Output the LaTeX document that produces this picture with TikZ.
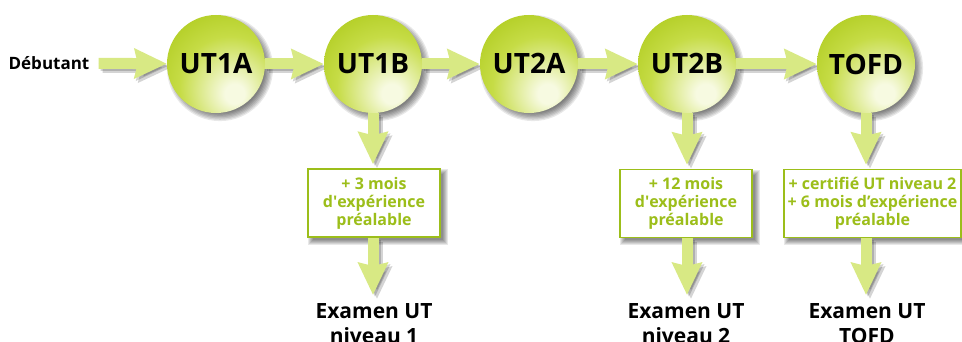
\documentclass[tikz,border=0pt]{standalone}
\usepackage{fontspec}
\setmainfont{Open Sans}
\usetikzlibrary{arrows.meta}
\definecolor{ballout}{RGB}{160,192,4}
\definecolor{ballmid}{RGB}{198,220,70}
\definecolor{ballin}{RGB}{247,250,225}
\definecolor{arrowc}{RGB}{216,233,132}
\definecolor{boxgreen}{RGB}{156,190,26}
\pgfdeclareradialshading{utball}{\pgfpoint{10bp}{-16bp}}{color(0bp)=(ballin); color(5bp)=(ballin); color(26bp)=(ballmid); color(52bp)=(ballout); color(100bp)=(ballout)}
\pgfdeclarelayer{back}
\pgfdeclarelayer{bg}
\pgfsetlayers{back,bg,main}
\tikzset{
  utnode/.style={circle, minimum size=98pt, inner sep=0pt, shading=utball,
    font=\fontsize{28}{30}\selectfont\bfseries},
  boxnode/.style={draw=boxgreen, line width=1.5pt, fill=white, minimum height=68pt,
    text=boxgreen, align=center, inner sep=0pt,
    font=\fontsize{16}{18}\selectfont\bfseries},
  examnode/.style={align=center, anchor=north, inner sep=2pt,
    font=\fontsize{21}{25}\selectfont\bfseries},
  fatarrow/.style={draw=arrowc, fill=arrowc, line width=11pt,
    -{Stealth[length=32pt,width=29pt,inset=3pt]}},
  arrsh/.style={fatarrow, draw=black, fill=black, opacity=0.17},
  softsh/.style={black, opacity=0.09}
}
\newcommand\fatarr[3][]{%
  \begin{pgfonlayer}{bg}
  \draw[arrsh,#1,transform canvas={shift={(2pt,-2pt)}}] #2 -- #3;
  \draw[arrsh,#1,transform canvas={shift={(4pt,-4pt)}}] #2 -- #3;
  \draw[fatarrow,#1] #2 -- #3;
  \end{pgfonlayer}}
\newcommand\ballsh[1]{%
  \begin{pgfonlayer}{back}
  \foreach \k in {1,...,7}{\fill[softsh] ([shift={(4,4)}]#1.center) circle ({44+1.3*\k});}
  \end{pgfonlayer}}
\newcommand\boxsh[1]{%
  \begin{pgfonlayer}{back}
  \foreach \e in {-2,-1,0,1,2,3}{\fill[softsh] ([shift={(4-\e,4-\e)}]#1.north west) rectangle ([shift={(4+\e,4+\e)}]#1.south east);}
  \end{pgfonlayer}}
\begin{document}
\begin{tikzpicture}[x=1pt,y=-1pt]
\useasboundingbox (0,0) rectangle (962,342);
\begin{pgfonlayer}{back}
\fill[white] (0,0) rectangle (962,342);
\end{pgfonlayer}
% start text
\node[inner sep=0pt, font=\fontsize{17}{20}\selectfont\bfseries] (deb) at (49,63) {Débutant};
% circles
\node[utnode] (ut1a) at (216,64) {UT1A};
\node[utnode] (ut1b) at (373,64) {UT1B};
\node[utnode] (ut2a) at (529,64) {UT2A};
\node[utnode] (ut2b) at (687,64) {UT2B};
\node[utnode] (tofd) at (866,64) {TOFD};
\ballsh{ut1a}\ballsh{ut1b}\ballsh{ut2a}\ballsh{ut2b}\ballsh{tofd}
% condition boxes
\node[boxnode, minimum width=132pt] (box1) at (374,203) {+ 3 mois\\d\textquotesingle expérience\\préalable};
\node[boxnode, minimum width=132pt] (box2) at (686,203.5) {+ 12 mois\\d\textquotesingle expérience\\préalable};
\node[boxnode, minimum width=177pt] (box3) at (872.5,203.5) {+ certifié UT niveau 2\\+ 6 mois d’expérience\\préalable};
\boxsh{box1}\boxsh{box2}\boxsh{box3}
% exams
\node[examnode] (exam1) at (374,301) {Examen UT\\niveau 1};
\node[examnode] (exam2) at (686,301) {Examen UT\\niveau 2};
\node[examnode] (exam3) at (867,301) {Examen UT\\TOFD};
% horizontal arrows
\fatarr[shorten <=9pt]{(deb)}{(ut1a)}
\fatarr{(ut1a)}{(ut1b)}
\fatarr{(ut1b)}{(ut2a)}
\fatarr{(ut2a)}{(ut2b)}
\fatarr{(ut2b)}{(tofd)}
% vertical arrows
\fatarr[shorten >=4pt]{(ut1b)}{(ut1b |- box1.north)}
\fatarr[shorten >=6pt]{(box1.south -| ut1b)}{(ut1b |- exam1.north)}
\fatarr[shorten >=4pt]{(ut2b)}{(ut2b |- box2.north)}
\fatarr[shorten >=6pt]{(box2.south -| ut2b)}{(ut2b |- exam2.north)}
\fatarr[shorten >=4pt]{(tofd)}{(tofd |- box3.north)}
\fatarr[shorten >=6pt]{(box3.south -| tofd)}{(tofd |- exam3.north)}
\end{tikzpicture}
\end{document}
